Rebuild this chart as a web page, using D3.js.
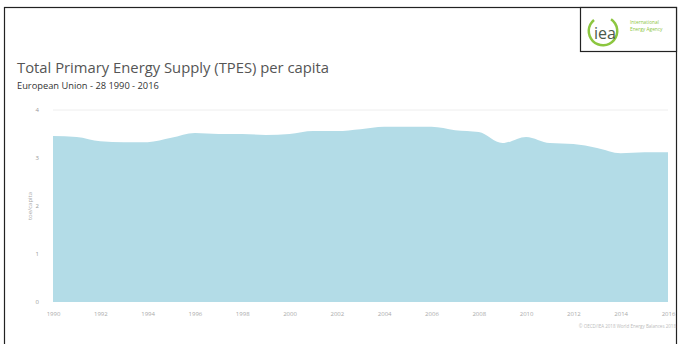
<!DOCTYPE html>
<html>
<head>
<meta charset="utf-8">
<script src="https://cdn.jsdelivr.net/npm/d3@7"></script>
<style>
  body { margin: 0; background: #fff; }
  text { font-family: "Open Sans", sans-serif; }
</style>
</head>
<body>
<script>
/*data*/
const years = d3.range(1990, 2017);
const tpes = [3.46, 3.44, 3.35, 3.33, 3.33, 3.42, 3.52, 3.50, 3.50, 3.48,
              3.50, 3.56, 3.56, 3.60, 3.65, 3.65, 3.65, 3.58, 3.54, 3.31,
              3.44, 3.31, 3.29, 3.21, 3.10, 3.12, 3.12];
const yTicks = [0, 1, 2, 3, 4];
const xTicks = d3.range(1990, 2017, 2);

const width = 678;
const height = 344;
const padding = { top: 110, bottom: 42, left: 53, right: 10 };

const svg = d3.select('body').append('svg')
    .attr('width', width)
    .attr('height', height);

/*frame*/
svg.append('rect')
    .attr('x', 4.5).attr('y', 7.5)
    .attr('width', 672).attr('height', 345)
    .attr('fill', 'none').attr('stroke', '#222').attr('stroke-width', 1.2);

/*logo box*/
const logo = svg.append('g').attr('transform', 'translate(580,7)');
logo.append('rect').attr('x', 0.5).attr('y', 0.5).attr('width', 96).attr('height', 44)
    .attr('fill', '#fff').attr('stroke', '#222').attr('stroke-width', 1.2);
logo.append('path')
    .attr('d', d3.arc()({ innerRadius: 13, outerRadius: 15.5, startAngle: 0.6, endAngle: 5.6 }))
    .attr('transform', 'translate(23,24)')
    .attr('fill', '#8cc63f');
logo.append('text').attr('x', 25).attr('y', 32).attr('text-anchor', 'middle')
    .attr('font-size', 16).attr('fill', '#4a5a4a').text('iea');
logo.append('text').attr('x', 50).attr('y', 17).attr('font-size', 4.8)
    .attr('fill', '#8cc63f').text('International');
logo.append('text').attr('x', 50).attr('y', 24).attr('font-size', 4.8)
    .attr('fill', '#8cc63f').text('Energy Agency');

/*titles*/
svg.append('text').attr('x', 17).attr('y', 73)
    .attr('font-size', 14.8).attr('fill', '#555')
    .text('Total Primary Energy Supply (TPES) per capita');
svg.append('text').attr('x', 17).attr('y', 89)
    .attr('font-size', 9.3).attr('fill', '#333')
    .text('European Union - 28 1990 - 2016');

/*scales*/
const xScale = d3.scaleLinear()
    .domain([1990, 2016])
    .range([padding.left, width - padding.right]);
const yScale = d3.scaleLinear()
    .domain([0, 4])
    .range([height - padding.bottom, padding.top]);

/*grid line at top*/
svg.append('line')
    .attr('x1', padding.left).attr('x2', width - padding.right)
    .attr('y1', yScale(4)).attr('y2', yScale(4))
    .attr('stroke', '#eee');

/*area*/
const area = d3.area()
    .x((d, i) => xScale(years[i]))
    .y0(yScale(0))
    .y1(d => yScale(d))
    .curve(d3.curveMonotoneX);
svg.append('path').datum(tpes)
    .attr('fill', '#b3dce7')
    .attr('d', area);

/*axes*/
const xAxis = svg.append('g')
    .attr('transform', 'translate(0,' + (height - padding.bottom + 11) + ')')
    .call(d3.axisBottom(xScale).tickValues(xTicks).tickFormat(d3.format('d')).tickSize(0));
xAxis.select('.domain').remove();
xAxis.selectAll('text').attr('font-size', 6).attr('fill', '#aaa').attr('dy', 0);

const yAxis = svg.append('g')
    .attr('transform', 'translate(' + (padding.left - 11) + ',0)')
    .call(d3.axisLeft(yScale).tickValues(yTicks).tickFormat(d3.format('d')).tickSize(0));
yAxis.select('.domain').remove();
yAxis.selectAll('text').attr('font-size', 6).attr('fill', '#999').attr('dy', '0.32em');

/*y title*/
svg.append('text')
    .attr('transform', 'translate(32,' + yScale(2) + ') rotate(-90)')
    .attr('text-anchor', 'middle')
    .attr('font-size', 6).attr('fill', '#aaa')
    .text('toe/capita');

/*source*/
svg.append('text').attr('x', 676).attr('y', 328).attr('text-anchor', 'end')
    .attr('font-size', 4.5).attr('fill', '#bbb')
    .text('© OECD/IEA 2018 World Energy Balances 2018');
</script>
</body>
</html>
